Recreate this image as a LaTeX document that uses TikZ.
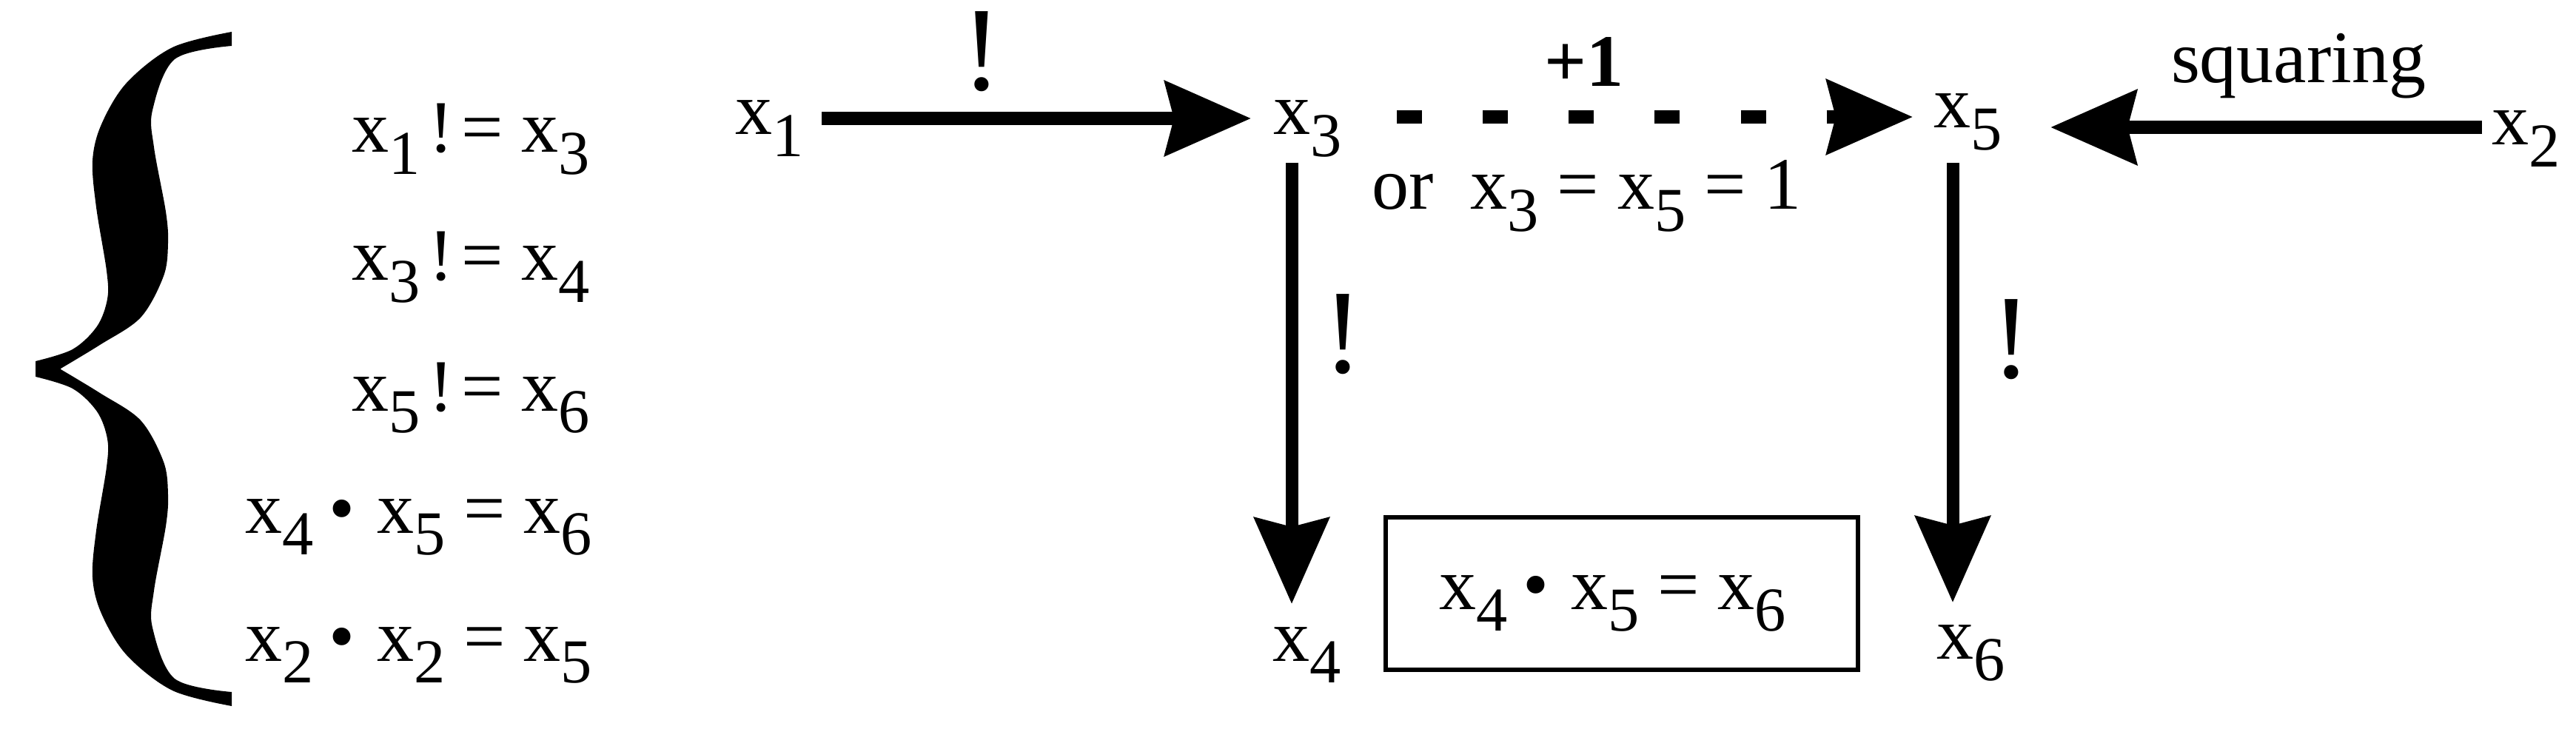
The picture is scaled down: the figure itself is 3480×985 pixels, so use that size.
\documentclass[tikz,border=0pt]{standalone}
\usepackage{fontspec}
\setmainfont{Liberation Serif}
\usetikzlibrary{arrows.meta,calc}
\newcommand\sbs[1]{\raisebox{-0.29cm}{\fontsize{24pt}{24pt}\selectfont #1}}
\newcommand\bsp{\hspace{0.11cm}}
\newcommand\bul{\hspace{0.2cm}•\hspace{0.3cm}}
\begin{document}
\begin{tikzpicture}[x=0.01cm,y=-0.01cm,
  txt/.style={inner sep=0pt,outer sep=0pt,font=\fontsize{28.45pt}{34pt}\selectfont},
  bang/.style={inner sep=0pt,outer sep=0pt,text height=1.05cm,text depth=0pt,font=\fontsize{46pt}{54pt}\selectfont},
  arr/.style={line width=0.17cm,-{Stealth[length=1.16cm,width=1.0cm,inset=0.12cm]}},
  dasharr/.style={arr,dash pattern=on 0.34cm off 0.82cm},
  eqbox/.style={txt,draw,line width=0.06cm,minimum width=6.38cm,minimum height=2.05cm,text height=0.71cm,text depth=0.29cm}]
\useasboundingbox (0,0) rectangle (3480,985);
% brace
\fill plot[smooth,tension=0.55] coordinates {(313,43) (233,64) (171,112) (137,168) (125,217) (130,280) (144,366) (145,404) (131,441) (98,472) (48,488)}
  -- plot[smooth,tension=0.55] coordinates {(48,509) (98,525) (131,556) (145,593) (144,631) (130,717) (125,780) (137,829) (171,885) (233,933) (313,954)}
  -- plot[smooth,tension=0.55] coordinates {(313,935) (236,917) (206,848) (208,798) (224,711) (227,668) (221,624) (190,568) (135,531) (82,499)}
  -- plot[smooth,tension=0.55] coordinates {(82,498) (135,466) (190,429) (221,373) (227,329) (224,286) (208,199) (206,149) (236,80) (313,62)}
  -- cycle;
% equations
\node[txt,anchor=base east] (e1) at (797,206) {x\sbs{1}\bsp!\bsp= x\sbs{3}};
\node[txt,anchor=base east] (e2) at (797,379) {x\sbs{3}\bsp!\bsp= x\sbs{4}};
\node[txt,anchor=base east] (e3) at (797,555) {x\sbs{5}\bsp!\bsp= x\sbs{6}};
\node[txt,anchor=base east] (e4) at (800,720) {x\sbs{4}\bul x\sbs{5} = x\sbs{6}};
\node[txt,anchor=base east] (e5) at (800,893) {x\sbs{2}\bul x\sbs{2} = x\sbs{5}};
% variables
\node[txt,anchor=base west] (x1) at (993,182) {x\sbs{1}};
\node[txt,anchor=base west] (x3) at (1720,182) {x\sbs{3}};
\node[txt,anchor=base west] (x5) at (2612,173) {x\sbs{5}};
\node[txt,anchor=base west] (x2) at (3366,196) {x\sbs{2}};
\node[txt,anchor=base west] (x4) at (1719,893) {x\sbs{4}};
\node[txt,anchor=base west] (x6) at (2616,890) {x\sbs{6}};
% box
\node[eqbox] (box) at (2191,802) {\hspace{-0.24cm}x\sbs{4}\bul x\sbs{5} = x\sbs{6}};
% connectors
\draw[arr] ($(x1.base east)+(25,-22)$) -- ($(x3.base west)+(-30,-22)$);
\draw[dasharr] ($(x3.base east)+(75,-24)$) -- ($(x5.base west)+(-28,-15)$);
\draw[arr] ($(x2.base west)+(-13,-24)$) -- ($(x5.base east)+(66,-1)$);
\draw[arr] ($(x3.base west)+(25,38)$) -- ($(x4.base west)+(26,-77)$);
\draw[arr] ($(x5.base west)+(26,47)$) -- ($(x6.base west)+(22,-76)$);
% labels
\node[bang,anchor=base] (l1) at (1326,122) {!};
\node[bang,anchor=base] (l2) at (1814,503) {!};
\node[bang,anchor=base] (l3) at (2717,511) {!};
\node[txt,anchor=base,font=\fontsize{28.45pt}{34pt}\selectfont\bfseries] (lp) at (2140,117) {+1};
\node[txt,anchor=base west] (ls) at (2933,112) {squaring};
\node[txt,anchor=base west] (lo) at (1853,283) {or\ \ x\sbs{3} = x\sbs{5} = 1};
\end{tikzpicture}
\end{document}
